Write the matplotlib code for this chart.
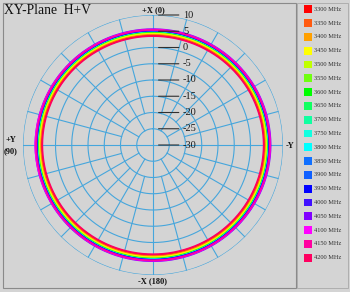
import numpy as np
import matplotlib.pyplot as plt
from matplotlib.patches import Rectangle, PathPatch
from matplotlib.path import Path

# measured gain (dB) vs azimuth, one row per frequency
angles_deg = [0, 15, 30, 45, 60, 75, 90, 105, 120, 135, 150, 165,
              180, 195, 210, 225, 240, 255, 270, 285, 300, 315, 330, 345]
freqs = [3300, 3350, 3400, 3450, 3500, 3550, 3600, 3650, 3700, 3750,
         3800, 3850, 3900, 3950, 4000, 4050, 4100, 4150, 4200]
colors = ['#ff0000', '#ff5a10', '#ffa000', '#ffff00', '#c0ff00', '#70ff10',
          '#00ff00', '#10ff60', '#10ffa0', '#10ffe0', '#00ffff', '#1070ff',
          '#1060ff', '#0000ff', '#4010ff', '#8000ff', '#ff00ff', '#ff00a0',
          '#ff0060']
gains = [
    [3.7, 3.73, 3.8, 3.95, 4.1, 4.2, 4.25, 4.2, 4.1, 4.0, 3.9, 3.82, 3.8, 3.82, 3.9, 4.0, 4.1, 4.2, 4.25, 4.2, 4.1, 3.95, 3.8, 3.73],
    [4.0, 4.03, 4.1, 4.25, 4.4, 4.5, 4.55, 4.5, 4.4, 4.3, 4.2, 4.12, 4.1, 4.12, 4.2, 4.3, 4.4, 4.5, 4.55, 4.5, 4.4, 4.25, 4.1, 4.03],
    [4.25, 4.28, 4.35, 4.5, 4.65, 4.75, 4.8, 4.75, 4.65, 4.55, 4.45, 4.37, 4.35, 4.37, 4.45, 4.55, 4.65, 4.75, 4.8, 4.75, 4.65, 4.5, 4.35, 4.28],
    [4.45, 4.48, 4.55, 4.7, 4.85, 4.95, 5.0, 4.95, 4.85, 4.75, 4.65, 4.57, 4.55, 4.57, 4.65, 4.75, 4.85, 4.95, 5.0, 4.95, 4.85, 4.7, 4.55, 4.48],
    [4.65, 4.68, 4.75, 4.9, 5.05, 5.15, 5.2, 5.15, 5.05, 4.95, 4.85, 4.77, 4.75, 4.77, 4.85, 4.95, 5.05, 5.15, 5.2, 5.15, 5.05, 4.9, 4.75, 4.68],
    [4.8, 4.83, 4.9, 5.05, 5.2, 5.3, 5.35, 5.3, 5.2, 5.1, 5.0, 4.92, 4.9, 4.92, 5.0, 5.1, 5.2, 5.3, 5.35, 5.3, 5.2, 5.05, 4.9, 4.83],
    [4.9, 4.93, 5.0, 5.15, 5.3, 5.4, 5.45, 5.4, 5.3, 5.2, 5.1, 5.02, 5.0, 5.02, 5.1, 5.2, 5.3, 5.4, 5.45, 5.4, 5.3, 5.15, 5.0, 4.93],
    [5.0, 5.03, 5.1, 5.25, 5.4, 5.5, 5.55, 5.5, 5.4, 5.3, 5.2, 5.12, 5.1, 5.12, 5.2, 5.3, 5.4, 5.5, 5.55, 5.5, 5.4, 5.25, 5.1, 5.03],
    [5.05, 5.08, 5.15, 5.3, 5.45, 5.55, 5.6, 5.55, 5.45, 5.35, 5.25, 5.17, 5.15, 5.17, 5.25, 5.35, 5.45, 5.55, 5.6, 5.55, 5.45, 5.3, 5.15, 5.08],
    [5.1, 5.13, 5.2, 5.35, 5.5, 5.6, 5.65, 5.6, 5.5, 5.4, 5.3, 5.22, 5.2, 5.22, 5.3, 5.4, 5.5, 5.6, 5.65, 5.6, 5.5, 5.35, 5.2, 5.13],
    [5.15, 5.18, 5.25, 5.4, 5.55, 5.65, 5.7, 5.65, 5.55, 5.45, 5.35, 5.27, 5.25, 5.27, 5.35, 5.45, 5.55, 5.65, 5.7, 5.65, 5.55, 5.4, 5.25, 5.18],
    [5.2, 5.23, 5.3, 5.45, 5.6, 5.7, 5.75, 5.7, 5.6, 5.5, 5.4, 5.32, 5.3, 5.32, 5.4, 5.5, 5.6, 5.7, 5.75, 5.7, 5.6, 5.45, 5.3, 5.23],
    [5.2, 5.22, 5.3, 5.45, 5.6, 5.7, 5.76, 5.7, 5.6, 5.5, 5.4, 5.32, 5.3, 5.32, 5.4, 5.5, 5.6, 5.7, 5.74, 5.7, 5.6, 5.45, 5.3, 5.22],
    [5.25, 5.28, 5.35, 5.5, 5.65, 5.75, 5.8, 5.75, 5.65, 5.55, 5.45, 5.37, 5.35, 5.37, 5.45, 5.55, 5.65, 5.75, 5.8, 5.75, 5.65, 5.5, 5.35, 5.28],
    [5.3, 5.33, 5.4, 5.55, 5.7, 5.8, 5.85, 5.8, 5.7, 5.6, 5.5, 5.42, 5.4, 5.42, 5.5, 5.6, 5.7, 5.8, 5.85, 5.8, 5.7, 5.55, 5.4, 5.33],
    [5.65, 5.68, 5.75, 5.9, 6.05, 6.15, 6.2, 6.15, 6.05, 5.95, 5.85, 5.77, 5.75, 5.77, 5.85, 5.95, 6.05, 6.15, 6.2, 6.15, 6.05, 5.9, 5.75, 5.68],
    [5.5, 5.53, 5.6, 5.75, 5.95, 6.1, 6.25, 6.1, 5.95, 5.8, 5.7, 5.62, 5.6, 5.62, 5.7, 5.8, 5.9, 6.0, 6.05, 6.0, 5.9, 5.75, 5.6, 5.53],
    [5.4, 5.43, 5.5, 5.65, 5.8, 5.9, 5.95, 5.9, 5.8, 5.7, 5.6, 5.52, 5.5, 5.52, 5.6, 5.7, 5.8, 5.9, 5.95, 5.9, 5.8, 5.65, 5.5, 5.43],
    [3.5, 3.53, 3.6, 3.75, 3.9, 4.0, 4.05, 4.0, 3.9, 3.8, 3.7, 3.62, 3.6, 3.62, 3.7, 3.8, 3.9, 4.0, 4.05, 4.0, 3.9, 3.75, 3.6, 3.53],
]
ring_levels = [10, 5, 0, -5, -10, -15, -20, -25, -30]

W, H = 350, 292
bg = '#d4d4d4'
grid_c = '#46a6dc'
serif = 'Liberation Serif'

fig = plt.figure(figsize=(W / 100, H / 100), dpi=100, facecolor=bg)

# panel frames
fig.patches.append(Rectangle((3 / W, 4 / H), 293 / W, 285 / H, transform=fig.transFigure,
                             fill=False, edgecolor='#8a8a8a', lw=0.8))
fig.patches.append(Rectangle((297 / W, 4 / H), 51 / W, 285 / H, transform=fig.transFigure,
                             fill=False, edgecolor='#a8a8a8', lw=0.6))

cx, cy, R = 153, 145, 130
ax = fig.add_axes([(cx - R) / W, (H - cy - R) / H, 2 * R / W, 2 * R / H], projection='polar')
ax.set_facecolor('none')
ax.set_theta_zero_location('N')
ax.set_theta_direction(1)
ax.set_ylim(-30, 10)
ax.grid(False)
ax.set_xticks([])
ax.set_yticks([])
ax.spines['polar'].set_visible(False)

# grid rings and spokes
tt = np.linspace(0, 2 * np.pi, 361)
for lv in ring_levels[:-1]:
    ax.plot(tt, np.full_like(tt, lv), color=grid_c, lw=0.8, zorder=1)
for a in range(0, 360, 15):
    if a % 90 == 0:
        r0 = -30
    elif a % 30 == 0:
        r0 = -25
    else:
        r0 = -20
    ax.plot([np.radians(a)] * 2, [r0, 10], color=grid_c, lw=0.8, zorder=1)

# pattern traces; closing point at 360 deg so the last segment runs forward,
# path steps let the polar transform follow the arc between samples
th = np.radians(angles_deg + [360])
for f, c, g in zip(freqs, colors, gains):
    verts = np.column_stack([th, g + [g[0]]])
    ax.add_patch(PathPatch(Path(verts, _interpolation_steps=16), fill=False,
                           edgecolor=c, lw=1.2, zorder=3))

# radial scale labels with leader lines
for lv in ring_levels:
    ax.annotate(str(lv), xy=(0, lv), xytext=(30, 0), textcoords='offset pixels',
                ha='left', va='center', fontsize=7.5, family=serif, color='#181818',
                arrowprops=dict(arrowstyle='-', color='#303030', lw=0.8,
                                shrinkA=1, shrinkB=4), zorder=4)

# title and axis direction labels
lab = dict(family=serif, color='#101010', fontweight='bold')
fig.text(4 / W, 1 - 4 / H, 'XY-Plane  H+V', ha='left', va='top', fontsize=9.8,
         family=serif, color='#101010')
fig.text(cx / W, 1 - 10 / H, '+X (0)', ha='center', va='center', fontsize=6, **lab)
fig.text(cx / W, 1 - 281 / H, '-X (180)', ha='center', va='center', fontsize=6, **lab)
fig.text(11 / W, 1 - 140 / H, '+Y', ha='center', va='center', fontsize=6, **lab)
fig.text(11 / W, 1 - 151 / H, '(90)', ha='center', va='center', fontsize=6, **lab)
fig.text(290 / W, 1 - 146 / H, '-Y', ha='center', va='center', fontsize=6, **lab)

# legend panel
lax = fig.add_axes([297 / W, 0, 53 / W, 1])
lax.set_xlim(297, 350)
lax.set_ylim(H, 0)
lax.axis('off')
ys = 9.3 + 13.8 * np.arange(len(freqs))
lax.scatter([308] * len(freqs), ys, marker='s', s=30, c=colors, edgecolors='none')
for y, f in zip(ys, freqs):
    lax.text(314, y, f'{f} MHz', ha='left', va='center', fontsize=4.6,
             family=serif, color='#303030')

fig.savefig('out.png', dpi=100, facecolor=bg)
